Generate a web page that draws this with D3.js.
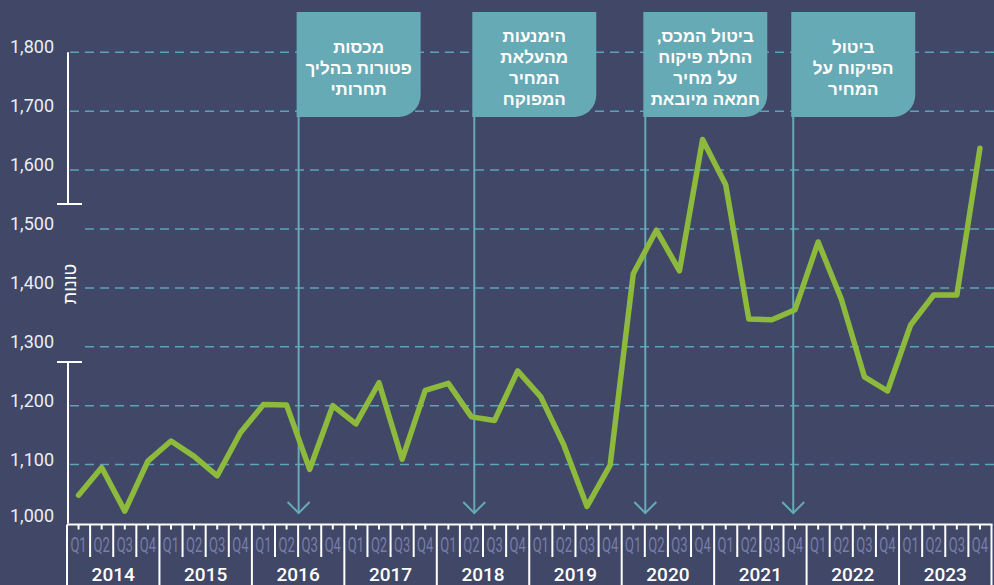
<!DOCTYPE html>
<html lang="he">
<head>
<meta charset="UTF-8">
<title>טונות לפי רבעון</title>
<script src="https://d3js.org/d3.v7.min.js"></script>
<style>
  html, body { margin: 0; padding: 0; background: #414767; }
  svg { display: block; }
</style>
</head>
<body>
<div id="chart"></div>
<script>
// data (tons per quarter, 2014 Q1 .. 2023 Q4)
var years = [2014, 2015, 2016, 2017, 2018, 2019, 2020, 2021, 2022, 2023];
var quarters = ["Q1", "Q2", "Q3", "Q4"];
var values = [1048, 1095, 1021, 1106, 1140, 1114, 1081, 1154,
              1202, 1201, 1092, 1200, 1169, 1239, 1109, 1226,
              1238, 1181, 1175, 1259, 1215, 1133, 1029, 1099,
              1424, 1498, 1429, 1652, 1575, 1347, 1346, 1363,
              1478, 1381, 1249, 1225, 1337, 1388, 1388, 1637];
var yTicks = [1000, 1100, 1200, 1300, 1400, 1500, 1600, 1700, 1800];
var yTitle = "טונות";

// annotation arrows: position in quarters from 2014 Q1, and box text
var eventPos = [10, 17.6, 25, 31.4];
var eventText = [
  ["מכסות", "פטורות בהליך", "תחרותי"],
  ["הימנעות", "מהעלאת", "המחיר", "המפוקח"],
  ["ביטול המכס,", "החלת פיקוח", "על מחיר", "חמאה מיובאת"],
  ["ביטול", "הפיקוח על", "המחיר"]
];

var W = 994, H = 585;
var bg = "#414767", teal = "#66aab5", green = "#8dba3d";

var svg = d3.select("#chart").append("svg")
    .attr("width", W).attr("height", H);

svg.append("rect").attr("width", W).attr("height", H).attr("fill", bg);

var x = d3.scaleLinear().domain([0, years.length * 4]).range([67, 991.5]);
var y = d3.scaleLinear().domain([1000, 1800]).range([523.5, 52.3]);

// dashed gridlines
svg.append("g").selectAll("line")
  .data(yTicks.filter(function(d) { return d > 1000; }))
  .join("line")
    .attr("x1", 70).attr("x2", W)
    .attr("y1", function(d) { return y(d); })
    .attr("y2", function(d) { return y(d); })
    .attr("stroke", "#5ba5b2")
    .attr("stroke-width", 1.5)
    .attr("stroke-dasharray", "9,6");

// gap behind the y title
svg.append("rect").attr("x", 56).attr("y", 205).attr("width", 27).attr("height", 156).attr("fill", bg);

// y tick labels
svg.append("g").selectAll("text")
  .data(yTicks)
  .join("text")
    .attr("x", 54)
    .attr("y", function(d) { return y(d) + (d == 1000 ? -2 : 1); })
    .attr("text-anchor", "end")
    .attr("fill", "#eceef4")
    .style("font", "18px Roboto, sans-serif")
    .text(d3.format(","));

// broken y axis
var ax = 68;
var yaxis = svg.append("g").attr("stroke", "#fff").attr("stroke-width", 2);
yaxis.append("line").attr("x1", ax).attr("x2", ax).attr("y1", y(1800)).attr("y2", 204);
yaxis.append("line").attr("x1", 57).attr("x2", 82).attr("y1", 204).attr("y2", 204);
yaxis.append("line").attr("x1", ax).attr("x2", ax).attr("y1", 362).attr("y2", y(1000));
yaxis.append("line").attr("x1", 57).attr("x2", 82).attr("y1", 362).attr("y2", 362);

svg.append("text")
    .attr("transform", "translate(70,284) rotate(-90)")
    .attr("text-anchor", "middle")
    .attr("dy", "0.35em")
    .attr("direction", "rtl")
    .attr("fill", "#fff")
    .style("font", "18px 'Liberation Sans', 'DejaVu Sans', sans-serif")
    .text(yTitle);

// annotation arrows
var arrows = svg.append("g").attr("stroke", teal).attr("stroke-width", 2).attr("fill", "none");
eventPos.forEach(function(p) {
  var ex = x(p) + 0.5;
  arrows.append("line").attr("x1", ex).attr("x2", ex).attr("y1", 110).attr("y2", 513);
  arrows.append("path").attr("d", "M" + (ex - 11) + "," + 502 + "L" + ex + "," + 513 + "L" + (ex + 11) + "," + 502);
});

// main line
var line = d3.line()
    .x(function(d, i) { return x(i + 0.5); })
    .y(function(d) { return y(d); });

svg.append("path")
    .datum(values)
    .attr("d", line)
    .attr("fill", "none")
    .attr("stroke", green)
    .attr("stroke-width", 5.5)
    .attr("stroke-linejoin", "round")
    .attr("stroke-linecap", "round");

// annotation boxes
var bw = 124, bt = 12, bb = 117, r = 22;
eventPos.forEach(function(p, k) {
  var l = x(p) - 1.5, rr = l + bw;
  svg.append("path")
    .attr("d", "M" + l + "," + bt + "H" + rr + "V" + (bb - r) +
               "A" + r + "," + r + " 0 0 1 " + (rr - r) + "," + bb + "H" + l + "Z")
    .attr("fill", teal);
  var lines = eventText[k];
  var lh = 21, cy = 68 - (lines.length - 1) * lh / 2;
  svg.append("g").selectAll("text")
    .data(lines)
    .join("text")
      .attr("x", l + bw / 2)
      .attr("y", function(d, i) { return cy + i * lh; })
      .attr("dy", "0.35em")
      .attr("text-anchor", "middle")
      .attr("direction", "rtl")
      .attr("fill", "#fff")
      .style("font", "bold 17px 'Liberation Sans', 'DejaVu Sans', sans-serif")
      .text(function(d) { return d; });
});

// x axis: quarters and years
var xa = svg.append("g").attr("stroke", "#fff").attr("stroke-width", 2);
var baseY = 524.5;
xa.append("line").attr("x1", x(0)).attr("x2", x(40) + 1).attr("y1", baseY).attr("y2", baseY);
d3.range(0, 41).forEach(function(i) {
  var xx = x(i);
  xa.append("line").attr("x1", xx).attr("x2", xx)
    .attr("y1", baseY).attr("y2", i % 4 == 0 ? H : 557);
});
d3.range(0, 40).forEach(function(i) {
  var xx = x(i + 0.5);
  xa.append("line").attr("x1", xx).attr("x2", xx).attr("y1", baseY).attr("y2", baseY + 5);
});

// condensed quarter labels
svg.append("g").selectAll("text")
  .data(d3.range(40))
  .join("text")
    .attr("transform", function(i) { return "translate(" + x(i + 0.5) + ",552) scale(0.62,1)"; })
    .attr("text-anchor", "middle")
    .attr("fill", "#777ea8")
    .style("font", "21px Roboto, sans-serif")
    .text(function(i) { return quarters[i % 4]; });

svg.append("g").selectAll("text")
  .data(years)
  .join("text")
    .attr("x", function(d, i) { return x(i * 4 + 2); })
    .attr("y", 581)
    .attr("text-anchor", "middle")
    .attr("fill", "#fff")
    .style("font", "500 19px Roboto, sans-serif")
    .text(function(d) { return d; });
</script>
</body>
</html>
